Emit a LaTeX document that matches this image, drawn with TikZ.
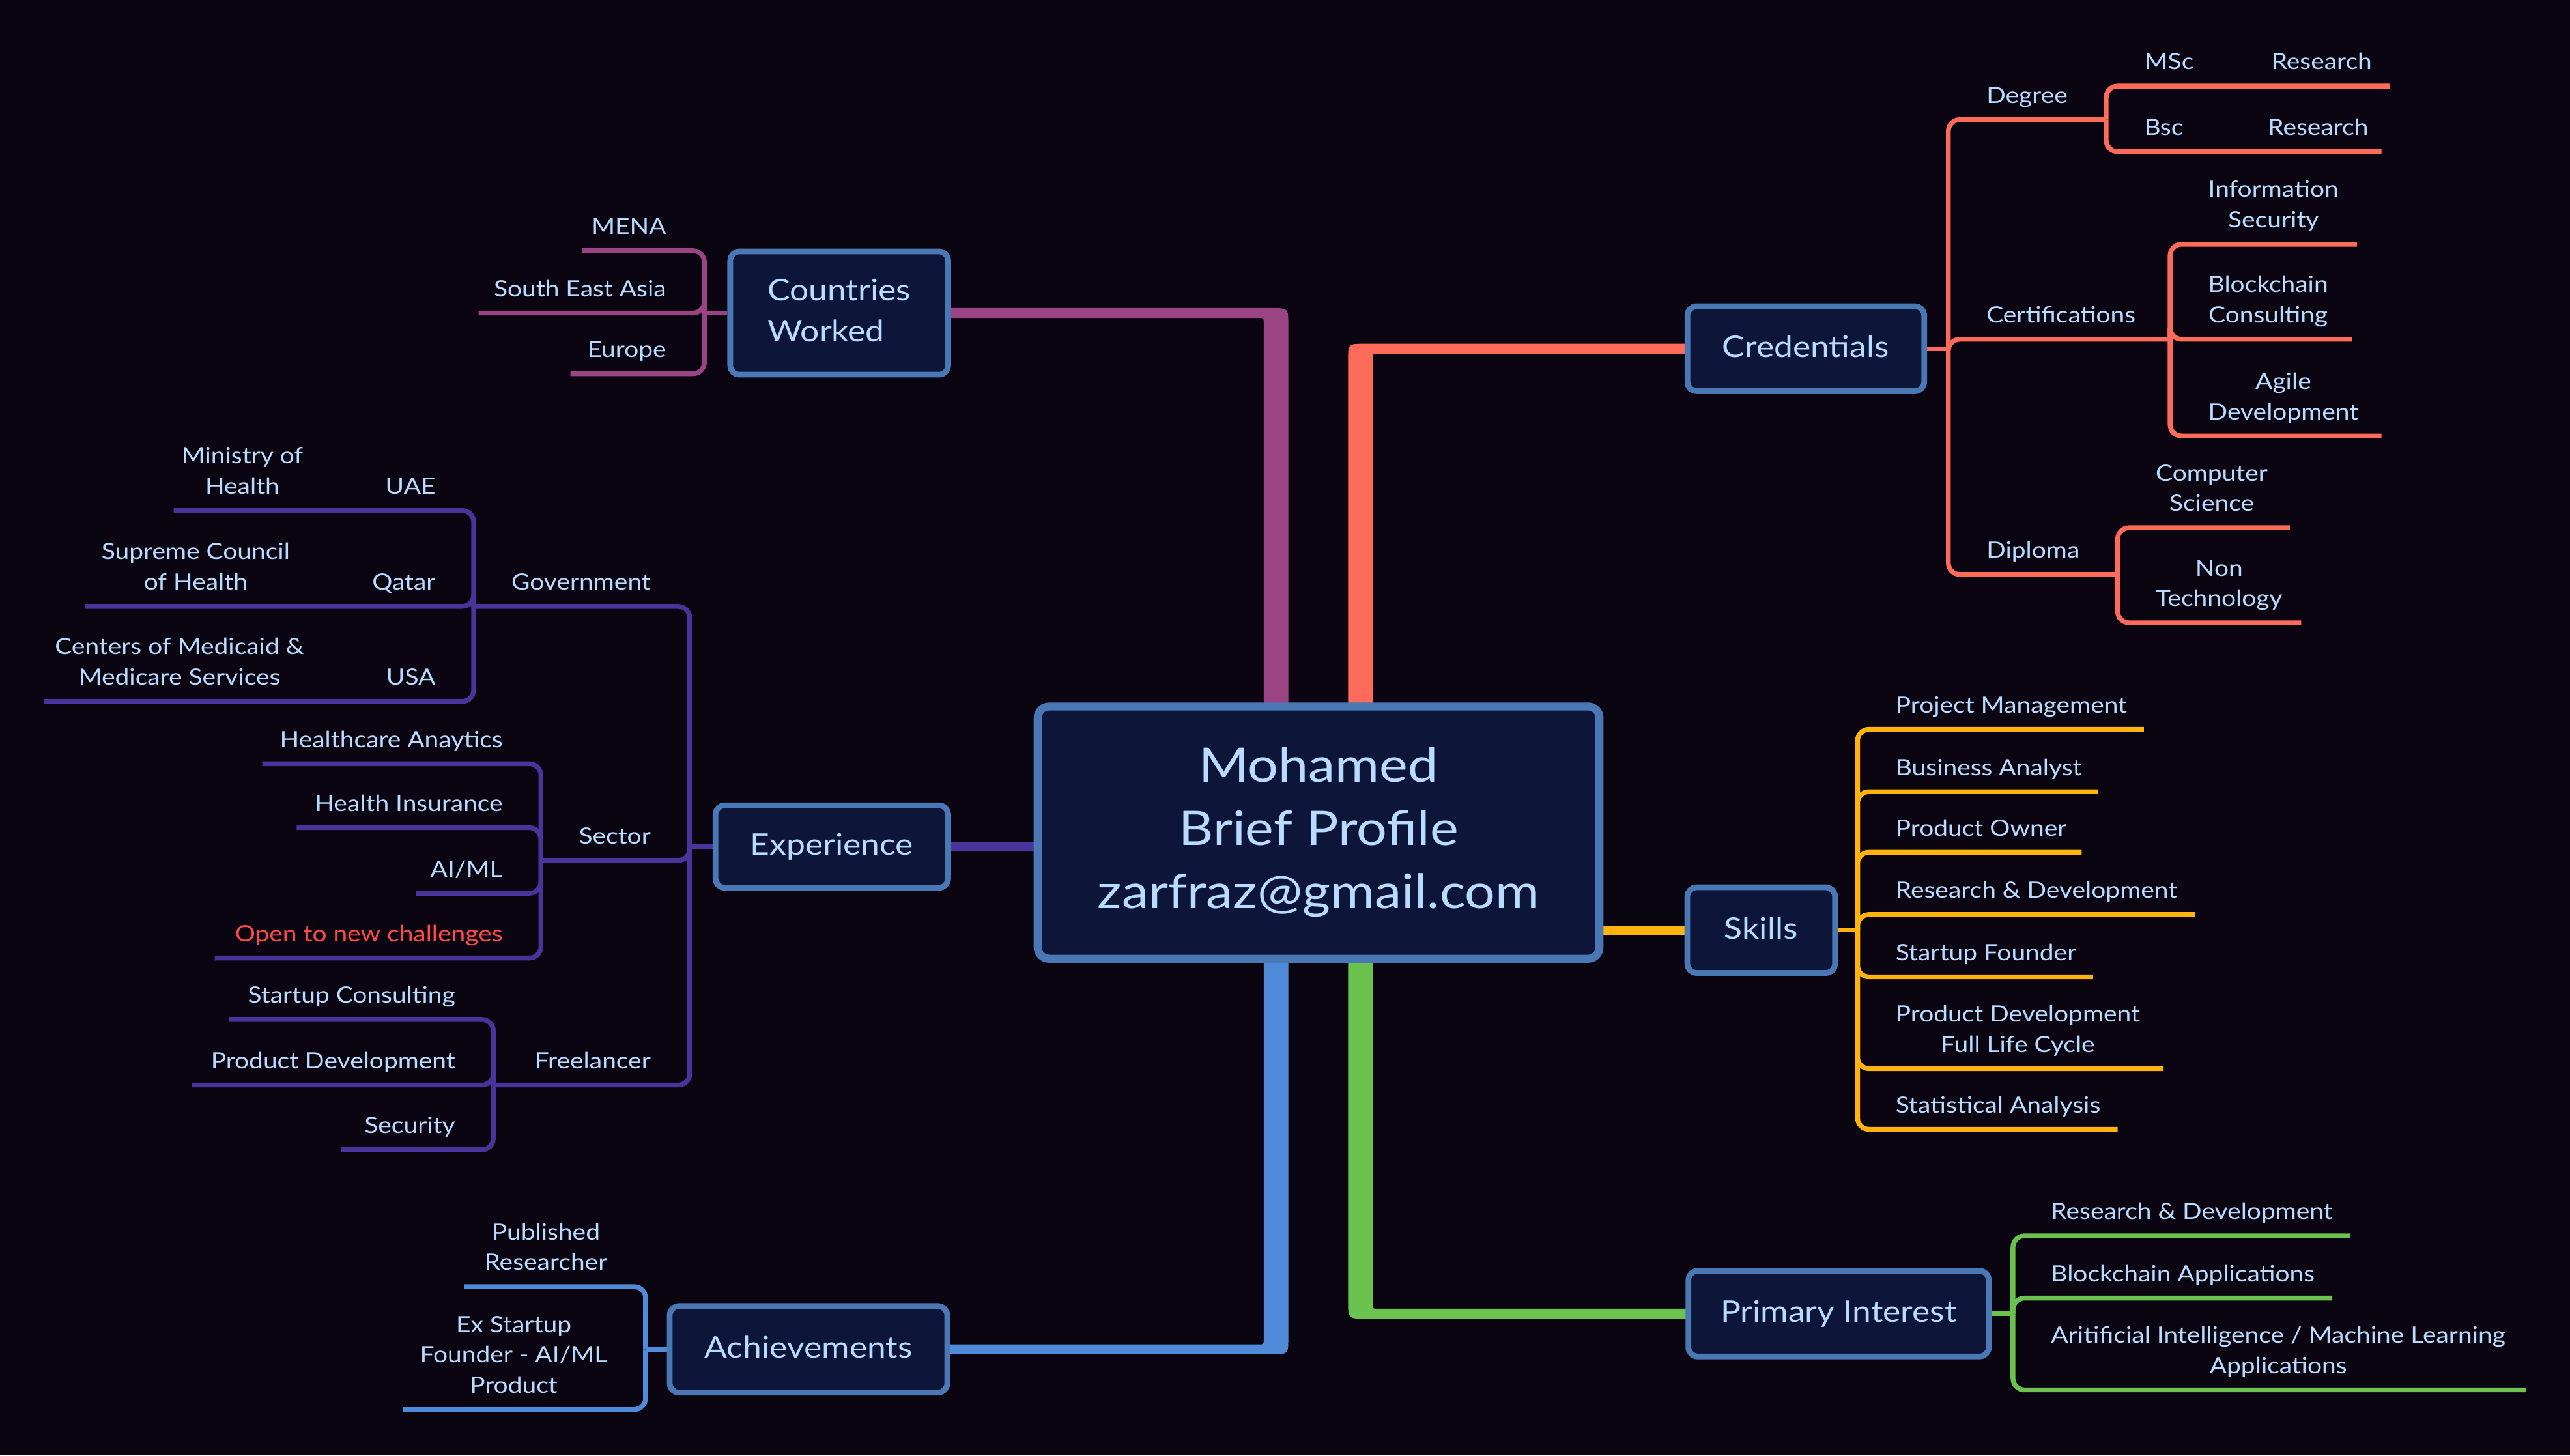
\documentclass[tikz,border=0pt]{standalone}
\usepackage{fontspec}
\setmainfont{Lato}[FakeStretch=1.13]
\usetikzlibrary{calc}
\definecolor{bgc}{HTML}{0A0511}
\definecolor{boxf}{HTML}{0D1538}
\definecolor{boxb}{HTML}{4A78B4}
\definecolor{txt}{HTML}{B8DBFF}
\definecolor{cPur}{HTML}{9A4484}
\definecolor{cCor}{HTML}{FF6B5A}
\definecolor{cInd}{HTML}{48349A}
\definecolor{cAmb}{HTML}{FFB30C}
\definecolor{cGrn}{HTML}{6CC24E}
\definecolor{cBlu}{HTML}{4F8BD8}
\definecolor{cRed}{HTML}{FF4A4A}
\pgfdeclarelayer{bgl}\pgfdeclarelayer{lines}\pgfsetlayers{bgl,lines,main}
\newcommand\fsmall{\fontsize{9.8}{13.3}\selectfont}
\newcommand\ftitle{\fontsize{13}{17.8}\selectfont}
\newcommand\fcenter{\fontsize{20.8}{27.5}\selectfont}
\newcommand\ml[1]{\begin{tabular}[b]{@{}c@{}}#1\end{tabular}}
\tikzset{
  box/.style={draw=boxb, fill=boxf, line width=2.5pt, rounded corners=4pt, text=txt, font=\ftitle, inner sep=0pt},
  ttl/.style={text height=7.6pt, text depth=0pt},
  lab/.style={text=txt, font=\fsmall, inner sep=0pt},
  sub/.style={line width=2.1pt, rounded corners=5pt},
  labL/.style={lab, anchor=base east},
  labR/.style={lab, anchor=base west},
}
\begin{document}
\begin{tikzpicture}[x=0.02516cm, y=-0.02516cm]
\useasboundingbox (0,0) rectangle (1568,888);
\begin{pgfonlayer}{bgl}
\fill[bgc] (0,0) rectangle (1568,888);
\end{pgfonlayer}

% ---------- main boxes ----------
\node[box, font=\fcenter, line width=3.5pt, rounded corners=5pt, minimum width=245.4pt, minimum height=110.2pt] (center) at (804.5,508)
  {\begin{tabular}{@{}c@{}}Mohamed\\Brief Profile\\zarfraz@gmail.com\end{tabular}};
\node[box, minimum width=95.2pt, minimum height=53.8pt] (cw) at (512,191)
  {\begin{tabular}{@{}l@{}}Countries\\Worked\end{tabular}};
\node[box, ttl, minimum width=103.4pt, minimum height=37.1pt] (cred) at (1101.75,212.75) {Credentials};
\node[box, ttl, minimum width=101.6pt, minimum height=36pt] (exp) at (507.5,516.5) {Experience};
\node[box, ttl, minimum width=64.5pt, minimum height=37.4pt] (sk) at (1074.5,567.5) {Skills};
\node[box, ttl, minimum width=121.2pt, minimum height=37.8pt] (ach) at (493.25,823.25) {Achievements};
\node[box, ttl, minimum width=131.2pt, minimum height=37.4pt] (pi) at (1121.75,801.5) {Primary Interest};

% ---------- junctions ----------
\coordinate (cwJ) at ($(cw.west)+(-14,0)$);
\coordinate (crJ) at ($(cred.east)+(13,0)$);
\coordinate (exJ) at ($(exp.west)+(-14,0)$);
\coordinate (skJ) at ($(sk.east)+(12,0)$);
\coordinate (acJ) at ($(ach.west)+(-13,0)$);
\coordinate (piJ) at ($(pi.east)+(13,0)$);

\coordinate (u-mena) at (355,153);
\coordinate (u-sea) at (292,191);
\coordinate (u-eur) at (348,228);

\coordinate (dgJ) at (1285,73);
\coordinate (ctJ) at (1324,207);
\coordinate (dpJ) at (1292,350.5);
\coordinate (u-msc) at (1458,52.5);
\coordinate (u-bsc) at (1453,92.5);
\coordinate (u-info) at (1438,149);
\coordinate (u-bc) at (1435,207);
\coordinate (u-agile) at (1453,266);
\coordinate (u-cs) at (1397,322);
\coordinate (u-nt) at (1404,380);

\coordinate (gvJ) at (289,370);
\coordinate (scJ) at (330,525);
\coordinate (flJ) at (301,662);
\coordinate (u-uae) at (106,311.5);
\coordinate (u-qat) at (52,370);
\coordinate (u-usa) at (27,428);
\coordinate (u-ha) at (160,466);
\coordinate (u-hi) at (181,505);
\coordinate (u-ai) at (254,545);
\coordinate (u-open) at (131,584.5);
\coordinate (u-sc) at (140,622);
\coordinate (u-pd) at (117,662);
\coordinate (u-sec) at (208,701.5);

\coordinate (u-pm) at (1308,445);
\coordinate (u-ba) at (1280,483);
\coordinate (u-po) at (1270,520);
\coordinate (u-rd) at (1339,558);
\coordinate (u-sf) at (1277,596);
\coordinate (u-pdl) at (1320,652);
\coordinate (u-sa) at (1292,689);

\coordinate (u-prd) at (1434,754);
\coordinate (u-pba) at (1423,792);
\coordinate (u-pai) at (1541,848);

\coordinate (u-pr) at (283,785);
\coordinate (u-ex) at (246,860);

% ---------- main branches ----------
\coordinate (tP) at ($(center.north)+(-26,0)$);
\coordinate (cP) at (tP |- cw.east);
\coordinate (tO) at ($(center.north)+(25.5,0)$);
\coordinate (cO) at (tO |- cred.west);
\coordinate (bB) at ($(center.south)+(-26,0)$);
\coordinate (cB) at (bB |- ach.east);
\coordinate (bG) at ($(center.south)+(25.5,0)$);
\coordinate (cG) at (bG |- pi.west);

\begin{pgfonlayer}{lines}
\fill[cPur] ($(tP)+(-7.5,10)$) -- ($(cP)+(-7.5,6)$) .. controls ($(cP)+(-7.5,3)$) .. ($(cP)+(-10.5,3)$)
  -- ($(cw.east)+(-5,3)$) -- ($(cw.east)+(-5,-3)$) -- ($(cP)+(-2.5,-3)$)
  .. controls ($(cP)+(7.5,-3)$) .. ($(cP)+(7.5,7)$) -- ($(tP)+(7.5,10)$) -- cycle;
\fill[cCor] ($(tO)+(7.5,10)$) -- ($(cO)+(7.5,6)$) .. controls ($(cO)+(7.5,3)$) .. ($(cO)+(10.5,3)$)
  -- ($(cred.west)+(5,3)$) -- ($(cred.west)+(5,-3)$) -- ($(cO)+(2.5,-3)$)
  .. controls ($(cO)+(-7.5,-3)$) .. ($(cO)+(-7.5,7)$) -- ($(tO)+(-7.5,10)$) -- cycle;
\fill[cBlu] ($(bB)+(-7.5,-10)$) -- ($(cB)+(-7.5,-6)$) .. controls ($(cB)+(-7.5,-3)$) .. ($(cB)+(-10.5,-3)$)
  -- ($(ach.east)+(-5,-3)$) -- ($(ach.east)+(-5,3)$) -- ($(cB)+(-2.5,3)$)
  .. controls ($(cB)+(7.5,3)$) .. ($(cB)+(7.5,-7)$) -- ($(bB)+(7.5,-10)$) -- cycle;
\fill[cGrn] ($(bG)+(7.5,-10)$) -- ($(cG)+(7.5,-6)$) .. controls ($(cG)+(7.5,-3)$) .. ($(cG)+(10.5,-3)$)
  -- ($(pi.west)+(5,-3)$) -- ($(pi.west)+(5,3)$) -- ($(cG)+(2.5,3)$)
  .. controls ($(cG)+(-7.5,3)$) .. ($(cG)+(-7.5,-7)$) -- ($(bG)+(-7.5,-10)$) -- cycle;
\draw[cInd, line width=4.3pt] (exp.east -| center.west) -- (exp.east);
\draw[cAmb, line width=4pt] (sk.west -| center.east) -- (sk.west);

% ---------- sub branches ----------
\draw[sub,cPur] (cw.west) -- (cwJ);
\foreach \u in {u-mena,u-sea,u-eur} \draw[sub,cPur] (cwJ) |- (\u);

\draw[sub,cCor] (cred.east) -- (crJ);
\foreach \u in {dgJ,ctJ,dpJ} \draw[sub,cCor] (crJ) |- (\u);
\foreach \u in {u-msc,u-bsc} \draw[sub,cCor] (dgJ) |- (\u);
\foreach \u in {u-info,u-bc,u-agile} \draw[sub,cCor] (ctJ) |- (\u);
\foreach \u in {u-cs,u-nt} \draw[sub,cCor] (dpJ) |- (\u);

\draw[sub,cInd] (exp.west) -- (exJ);
\foreach \u in {gvJ,scJ,flJ} \draw[sub,cInd] (exJ) |- (\u);
\foreach \u in {u-uae,u-qat,u-usa} \draw[sub,cInd] (gvJ) |- (\u);
\foreach \u in {u-ha,u-hi,u-ai,u-open} \draw[sub,cInd] (scJ) |- (\u);
\foreach \u in {u-sc,u-pd,u-sec} \draw[sub,cInd] (flJ) |- (\u);

\draw[sub,cAmb] (sk.east) -- (skJ);
\foreach \u in {u-pm,u-ba,u-po,u-rd,u-sf,u-pdl,u-sa} \draw[sub,cAmb] (skJ) |- (\u);

\draw[sub,cGrn] (pi.east) -- (piJ);
\foreach \u in {u-prd,u-pba,u-pai} \draw[sub,cGrn] (piJ) |- (\u);

\draw[sub,cBlu] (ach.west) -- (acJ);
\foreach \u in {u-pr,u-ex} \draw[sub,cBlu] (acJ) |- (\u);
\end{pgfonlayer}

% ---------- labels ----------
\node[labL] (mena) at ($(cwJ|-u-mena)+(-23,-10)$) {MENA};
\node[labL] (sea) at ($(cwJ|-u-sea)+(-23,-10)$) {South East Asia};
\node[labL] (eur) at ($(cwJ|-u-eur)+(-23,-10)$) {Europe};

\node[labR] (deg) at ($(crJ|-dgJ)+(23,-10)$) {Degree};
\node[labR] (cert) at ($(crJ|-ctJ)+(23,-10)$) {Certifications};
\node[labR] (dipl) at ($(crJ|-dpJ)+(23,-10)$) {Diploma};
\node[labR] (msc) at ($(dgJ|-u-msc)+(23,-10)$) {MSc\hspace{34pt}Research};
\node[labR] (bsc) at ($(dgJ|-u-bsc)+(23,-10)$) {Bsc\hspace{37pt}Research};
\node[labR] (info) at ($(ctJ|-u-info)+(23,-10)$) {\ml{Information\\Security}};
\node[labR] (bcc) at ($(ctJ|-u-bc)+(23,-10)$) {\ml{Blockchain\\Consulting}};
\node[labR] (agile) at ($(ctJ|-u-agile)+(23,-10)$) {\ml{Agile\\Development}};
\node[labR] (cs) at ($(dpJ|-u-cs)+(23,-10)$) {\ml{Computer\\Science}};
\node[labR] (nt) at ($(dpJ|-u-nt)+(23,-10)$) {\ml{Non\\Technology}};

\node[labL] (gov) at ($(exJ|-gvJ)+(-23.5,-10)$) {Government};
\node[labL] (sect) at ($(exJ|-scJ)+(-23.5,-10)$) {Sector};
\node[labL] (free) at ($(exJ|-flJ)+(-23.5,-10)$) {Freelancer};
\node[labL] (uae) at ($(gvJ|-u-uae)+(-23,-10)$) {\begin{tabular}[b]{@{}c@{\hspace{36pt}}l@{}}Ministry of&\\Health&UAE\end{tabular}};
\node[labL] (qat) at ($(gvJ|-u-qat)+(-23,-10)$) {\begin{tabular}[b]{@{}c@{\hspace{36pt}}l@{}}Supreme Council&\\of Health&Qatar\end{tabular}};
\node[labL] (usa) at ($(gvJ|-u-usa)+(-23,-10)$) {\begin{tabular}[b]{@{}c@{\hspace{36pt}}l@{}}Centers of Medicaid \&&\\Medicare Services&USA\end{tabular}};
\node[labL] (ha) at ($(scJ|-u-ha)+(-23,-10)$) {Healthcare Anaytics};
\node[labL] (hi) at ($(scJ|-u-hi)+(-23,-10)$) {Health Insurance};
\node[labL] (aiml) at ($(scJ|-u-ai)+(-23,-10)$) {AI/ML};
\node[labL, text=cRed] (open) at ($(scJ|-u-open)+(-23,-10)$) {Open to new challenges};
\node[labL] (sc) at ($(flJ|-u-sc)+(-23,-10)$) {Startup Consulting};
\node[labL] (pd) at ($(flJ|-u-pd)+(-23,-10)$) {Product Development};
\node[labL] (sec) at ($(flJ|-u-sec)+(-23,-10)$) {Security};

\node[labR] (pm) at ($(skJ|-u-pm)+(23,-10)$) {Project Management};
\node[labR] (ba) at ($(skJ|-u-ba)+(23,-10)$) {Business Analyst};
\node[labR] (po) at ($(skJ|-u-po)+(23,-10)$) {Product Owner};
\node[labR] (rd) at ($(skJ|-u-rd)+(23,-10)$) {Research \& Development};
\node[labR] (sf) at ($(skJ|-u-sf)+(23,-10)$) {Startup Founder};
\node[labR] (pdl) at ($(skJ|-u-pdl)+(23,-10)$) {\ml{Product Development\\Full Life Cycle}};
\node[labR] (sa) at ($(skJ|-u-sa)+(23,-10)$) {Statistical Analysis};

\node[labR] (prd) at ($(piJ|-u-prd)+(23,-10)$) {Research \& Development};
\node[labR] (pba) at ($(piJ|-u-pba)+(23,-10)$) {Blockchain Applications};
\node[labR] (pai) at ($(piJ|-u-pai)+(23,-10)$) {\ml{Aritificial Intelligence / Machine Learning\\Applications}};

\node[labL] (pr) at ($(acJ|-u-pr)+(-23,-10)$) {\ml{Published\\Researcher}};
\node[labL] (ex) at ($(acJ|-u-ex)+(-23,-10)$) {\ml{Ex Startup\\Founder - AI/ML\\Product}};
\end{tikzpicture}
\end{document}
